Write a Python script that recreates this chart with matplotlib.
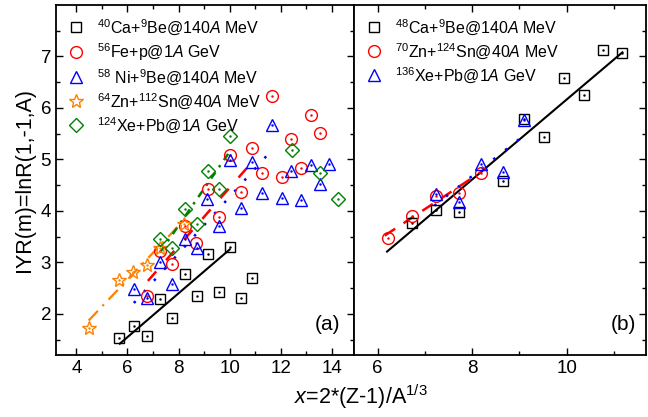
import numpy as np
import matplotlib
matplotlib.use("Agg")
import matplotlib.pyplot as plt

plt.rcParams['font.family'] = ['Liberation Sans', 'DejaVu Sans']
plt.rcParams['mathtext.fontset'] = 'custom'
plt.rcParams['mathtext.rm'] = 'Liberation Sans'
plt.rcParams['mathtext.it'] = 'Liberation Sans:italic'
plt.rcParams['mathtext.bf'] = 'Liberation Sans:bold'

# ---------------- Panel (a) data ----------------
ca40_x = [5.67, 6.24, 6.78, 7.28, 7.75, 8.25, 8.71, 9.15, 9.58, 10.01, 10.45, 10.87]
ca40_y = [1.54, 1.77, 1.57, 2.28, 1.92, 2.78, 2.34, 3.17, 2.43, 3.29, 2.30, 2.70]

fe56_x = [6.77, 7.27, 7.75, 8.25, 8.69, 9.15, 9.58, 10.01, 10.44, 10.87, 11.28, 11.66, 12.04, 12.42, 12.80, 13.18, 13.55]
fe56_y = [2.34, 3.23, 2.97, 3.71, 3.37, 4.43, 3.89, 5.08, 4.36, 5.22, 4.74, 6.24, 4.65, 5.39, 4.84, 5.86, 5.52]

ni58_x = [6.25, 6.76, 7.27, 7.75, 8.25, 8.71, 9.12, 9.58, 10.01, 10.45, 10.86, 11.27, 11.66, 12.05, 12.42, 12.81, 13.18, 13.54, 13.91]
ni58_y = [2.48, 2.31, 3.00, 2.58, 3.45, 3.27, 4.23, 3.71, 4.98, 4.05, 4.94, 4.34, 5.66, 4.25, 4.78, 4.21, 4.89, 4.52, 4.92]

zn64_x = [4.48, 5.67, 6.22, 6.76, 7.28, 8.22]
zn64_y = [1.73, 2.65, 2.81, 2.95, 3.28, 3.75]

xe124_x = [7.28, 7.76, 8.25, 8.71, 9.15, 9.58, 10.01, 12.43, 13.54, 14.26]
xe124_y = [3.45, 3.27, 4.04, 3.75, 4.78, 4.43, 5.45, 5.19, 4.73, 4.24]

# linear-fit lines (end points of the fits)
fit_ca40_x, fit_ca40_y = [5.70, 10.0], [1.42, 3.25]
fit_fe56_x, fit_fe56_y = [6.80, 10.9], [2.64, 4.96]
fit_ni58_x, fit_ni58_y = [6.25, 11.45], [2.21, 5.07]
fit_zn64_x, fit_zn64_y = [4.48, 8.25], [1.87, 3.84]
fit_xe124_x, fit_xe124_y = [7.27, 10.0], [3.19, 5.15]

# ---------------- Panel (b) data ----------------
ca48_x = [6.73, 7.24, 7.72, 8.65, 9.09, 9.52, 9.95, 10.37, 10.77, 11.18]
ca48_y = [3.77, 4.01, 3.98, 4.58, 5.79, 5.44, 6.58, 6.26, 7.13, 7.06]

zn70_x = [6.22, 6.73, 7.24, 7.72, 8.19]
zn70_y = [3.47, 3.90, 4.29, 4.35, 4.73]

xe136_x = [7.24, 7.72, 8.19, 8.65, 9.10]
xe136_y = [4.33, 4.18, 4.91, 4.76, 5.77]

fit_ca48_x, fit_ca48_y = [6.20, 11.18], [3.21, 7.08]
fit_zn70_x, fit_zn70_y = [6.15, 8.20], [3.52, 4.76]
fit_xe136_x, fit_xe136_y = [7.20, 9.10], [4.10, 5.47]

labels_a = [r'$^{40}$Ca+$^{9}$Be@140$\mathit{A}$ MeV',
            r'$^{56}$Fe+p@1$\mathit{A}$ GeV',
            r'$^{58}$ Ni+$^{9}$Be@140$\mathit{A}$ MeV',
            r'$^{64}$Zn+$^{112}$Sn@40$\mathit{A}$ MeV',
            r'$^{124}$Xe+Pb@1$\mathit{A}$ GeV']
labels_b = [r'$^{48}$Ca+$^{9}$Be@140$\mathit{A}$ MeV',
            r'$^{70}$Zn+$^{124}$Sn@40$\mathit{A}$ MeV',
            r'$^{136}$Xe+Pb@1$\mathit{A}$ GeV']

BLACK, RED, BLUE, ORANGE, GREEN = '#000000', '#FF0000', '#0000FF', '#FF8000', '#008000'

fig = plt.figure(figsize=(6.48, 4.17), dpi=100)
L, R, M = 56/648, 646/648, 354/648
B, T = 1 - 355/417, 1 - 5/417
axa = fig.add_axes([L, B, M - L, T - B])
axb = fig.add_axes([M, B, R - M, T - B])

ms = 7.5
mew = 1.0

def scatter(ax, x, y, marker, color, label, size=ms):
    h, = ax.plot(x, y, linestyle='none', marker=marker, ms=size, mfc='none',
                 mec=color, mew=mew, label=label)
    ax.plot(x, y, linestyle='none', marker='.', ms=1.5, color=color)
    return h

# panel (a) lines
axa.plot(fit_ca40_x, fit_ca40_y, color=BLACK, lw=1.5, ls='-')
axa.plot(fit_fe56_x, fit_fe56_y, color=RED, lw=1.8, ls=(0, (5, 6)))
axa.plot(fit_ni58_x, fit_ni58_y, color=BLUE, lw=1.8, ls=(0, (1, 5)))
axa.plot(fit_zn64_x, fit_zn64_y, color=ORANGE, lw=1.6, ls=(0, (6, 3, 1, 3)))
axa.plot(fit_xe124_x, fit_xe124_y, color=GREEN, lw=1.8, ls=(0, (3, 2.5, 1, 2.5)))

ha = [scatter(axa, ca40_x, ca40_y, 's', BLACK, labels_a[0]),
      scatter(axa, fe56_x, fe56_y, 'o', RED, labels_a[1], ms + 1),
      scatter(axa, ni58_x, ni58_y, '^', BLUE, labels_a[2], ms + 1.5),
      scatter(axa, zn64_x, zn64_y, '*', ORANGE, labels_a[3], ms + 2.5),
      scatter(axa, xe124_x, xe124_y, 'D', GREEN, labels_a[4], ms - 0.5)]

# panel (b)
axb.plot(fit_ca48_x, fit_ca48_y, color=BLACK, lw=1.5, ls='-')
axb.plot(fit_zn70_x, fit_zn70_y, color=RED, lw=1.8, ls=(0, (5, 4)))
axb.plot(fit_xe136_x, fit_xe136_y, color=BLUE, lw=1.8, ls=(0, (1, 5)))
hb = [scatter(axb, ca48_x, ca48_y, 's', BLACK, labels_b[0]),
      scatter(axb, zn70_x, zn70_y, 'o', RED, labels_b[1], ms + 1),
      scatter(axb, xe136_x, xe136_y, '^', BLUE, labels_b[2], ms + 1.5)]

for ax in (axa, axb):
    ax.set_ylim(1.2, 8.0)
    ax.set_yticks([2, 3, 4, 5, 6, 7])
    ax.set_yticks(np.arange(1.5, 8.0, 1.0), minor=True)
    ax.tick_params(which='both', direction='in', top=True, right=True, labelsize=13.5)
    ax.tick_params(which='major', length=5, width=1.0)
    ax.tick_params(which='minor', length=3, width=1.0)
    for s in ax.spines.values():
        s.set_linewidth(1.3)

axa.set_xlim(3.2, 14.87)
axa.set_xticks([4, 6, 8, 10, 12, 14])
axa.set_xticks([5, 7, 9, 11, 13], minor=True)

axb.set_xlim(5.5, 11.68)
axb.set_xticks([6, 8, 10])
axb.set_xticks([7, 9, 11], minor=True)
axb.tick_params(which='both', left=False, labelleft=False)

axa.set_ylabel('IYR(m)=lnR(1,-1,A)', fontsize=15.5, labelpad=4)
fig.text(361/648, 1 - 397/417, r'$\mathit{x}$=2*(Z-1)/A$^{1/3}$', fontsize=15.5,
         ha='center', va='center')

axa.text(0.955, 0.06, '(a)', transform=axa.transAxes, fontsize=15, ha='right', va='bottom')
axb.text(0.965, 0.06, '(b)', transform=axb.transAxes, fontsize=15, ha='right', va='bottom')

leg_kw = dict(loc='upper left', frameon=False, fontsize=11.5, handlelength=1.0,
              handletextpad=0.8, labelspacing=0.25, borderaxespad=0.35)
axa.legend(handles=ha, **leg_kw)
axb.legend(handles=hb, **leg_kw)

fig.savefig('out.png', dpi=100)
